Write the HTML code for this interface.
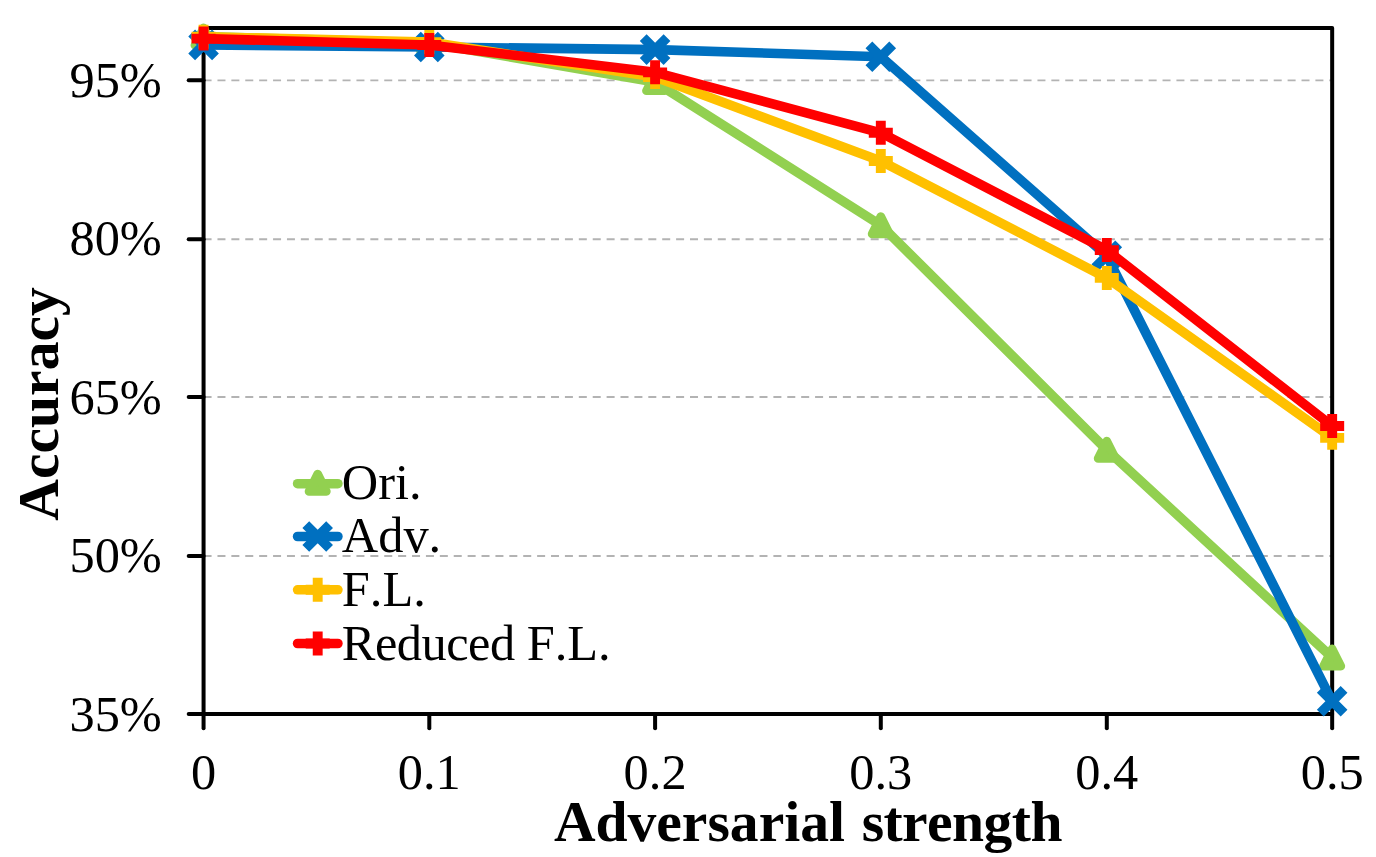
<!DOCTYPE html>
<html><head><meta charset="utf-8"><title>chart</title>
<style>html,body{margin:0;padding:0;background:#fff;}svg{display:block;}text{font-family:"Liberation Serif",serif;fill:#000;font-kerning:none;font-variant-ligatures:none;}</style></head><body>
<svg width="1376" height="857" viewBox="0 0 1376 857">
<rect width="1376" height="857" fill="#fff"/>
<line x1="203.57" y1="80.35" x2="1332.17" y2="80.35" stroke="#B3B3B3" stroke-width="1.9" stroke-dasharray="8 5.898"/>
<line x1="203.57" y1="239.20" x2="1332.17" y2="239.20" stroke="#B3B3B3" stroke-width="1.9" stroke-dasharray="8 5.898"/>
<line x1="203.57" y1="397.05" x2="1332.17" y2="397.05" stroke="#B3B3B3" stroke-width="1.9" stroke-dasharray="8 5.898"/>
<line x1="203.57" y1="556.00" x2="1332.17" y2="556.00" stroke="#B3B3B3" stroke-width="1.9" stroke-dasharray="8 5.898"/>
<line x1="203.57" y1="80.35" x2="188.7" y2="80.35" stroke="#000" stroke-width="4.0" stroke-linecap="round"/>
<line x1="203.57" y1="239.20" x2="188.7" y2="239.20" stroke="#000" stroke-width="4.0" stroke-linecap="round"/>
<line x1="203.57" y1="397.05" x2="188.7" y2="397.05" stroke="#000" stroke-width="4.0" stroke-linecap="round"/>
<line x1="203.57" y1="556.00" x2="188.7" y2="556.00" stroke="#000" stroke-width="4.0" stroke-linecap="round"/>
<line x1="203.57" y1="714.05" x2="188.7" y2="714.05" stroke="#000" stroke-width="4.0" stroke-linecap="round"/>
<line x1="203.57" y1="714.05" x2="203.57" y2="728.2" stroke="#000" stroke-width="4.0" stroke-linecap="round"/>
<line x1="429.30" y1="714.05" x2="429.30" y2="728.2" stroke="#000" stroke-width="4.0" stroke-linecap="round"/>
<line x1="655.10" y1="714.05" x2="655.10" y2="728.2" stroke="#000" stroke-width="4.0" stroke-linecap="round"/>
<line x1="880.80" y1="714.05" x2="880.80" y2="728.2" stroke="#000" stroke-width="4.0" stroke-linecap="round"/>
<line x1="1106.80" y1="714.05" x2="1106.80" y2="728.2" stroke="#000" stroke-width="4.0" stroke-linecap="round"/>
<line x1="1332.17" y1="714.05" x2="1332.17" y2="728.2" stroke="#000" stroke-width="4.0" stroke-linecap="round"/>
<rect x="203.57" y="28.0" width="1128.60" height="686.05" fill="none" stroke="#000" stroke-width="4.0" stroke-linejoin="round"/>
<polyline points="203.57,36.60 429.30,43.00 655.10,82.10 880.80,225.20 1106.80,449.80 1332.17,657.50" fill="none" stroke="#92D050" stroke-width="9.6" stroke-linejoin="round" stroke-linecap="round"/>
<path d="M203.57,27.90 L212.27,45.30 L194.87,45.30 Z" fill="#92D050" stroke="#92D050" stroke-width="8.6" stroke-linejoin="round"/>
<path d="M429.30,34.30 L438.00,51.70 L420.60,51.70 Z" fill="#92D050" stroke="#92D050" stroke-width="8.6" stroke-linejoin="round"/>
<path d="M655.10,73.40 L663.80,90.80 L646.40,90.80 Z" fill="#92D050" stroke="#92D050" stroke-width="8.6" stroke-linejoin="round"/>
<path d="M880.80,216.50 L889.50,233.90 L872.10,233.90 Z" fill="#92D050" stroke="#92D050" stroke-width="8.6" stroke-linejoin="round"/>
<path d="M1106.80,441.10 L1115.50,458.50 L1098.10,458.50 Z" fill="#92D050" stroke="#92D050" stroke-width="8.6" stroke-linejoin="round"/>
<path d="M1332.17,648.80 L1340.87,666.20 L1323.47,666.20 Z" fill="#92D050" stroke="#92D050" stroke-width="8.6" stroke-linejoin="round"/>
<polyline points="203.57,44.90 429.30,47.00 655.10,49.60 880.80,56.70 1106.80,255.80 1332.17,701.30" fill="none" stroke="#0070C0" stroke-width="9.6" stroke-linejoin="round" stroke-linecap="round"/>
<path d="M191.67,33.00 L215.47,56.80 M191.67,56.80 L215.47,33.00" fill="none" stroke="#0070C0" stroke-width="9.6" stroke-linecap="butt"/>
<path d="M417.40,35.10 L441.20,58.90 M417.40,58.90 L441.20,35.10" fill="none" stroke="#0070C0" stroke-width="9.6" stroke-linecap="butt"/>
<path d="M643.20,37.70 L667.00,61.50 M643.20,61.50 L667.00,37.70" fill="none" stroke="#0070C0" stroke-width="9.6" stroke-linecap="butt"/>
<path d="M868.90,44.80 L892.70,68.60 M868.90,68.60 L892.70,44.80" fill="none" stroke="#0070C0" stroke-width="9.6" stroke-linecap="butt"/>
<path d="M1094.90,243.90 L1118.70,267.70 M1094.90,267.70 L1118.70,243.90" fill="none" stroke="#0070C0" stroke-width="9.6" stroke-linecap="butt"/>
<path d="M1320.27,689.40 L1344.07,713.20 M1320.27,713.20 L1344.07,689.40" fill="none" stroke="#0070C0" stroke-width="9.6" stroke-linecap="butt"/>
<polyline points="203.57,36.70 429.30,42.10 655.10,77.10 880.80,161.00 1106.80,277.90 1332.17,437.85" fill="none" stroke="#FFC000" stroke-width="9.6" stroke-linejoin="round" stroke-linecap="round"/>
<path d="M191.57,36.70 L215.57,36.70 M203.57,24.70 L203.57,48.70" fill="none" stroke="#FFC000" stroke-width="9.9" stroke-linecap="butt"/>
<path d="M417.30,42.10 L441.30,42.10 M429.30,30.10 L429.30,54.10" fill="none" stroke="#FFC000" stroke-width="9.9" stroke-linecap="butt"/>
<path d="M643.10,77.10 L667.10,77.10 M655.10,65.10 L655.10,89.10" fill="none" stroke="#FFC000" stroke-width="9.9" stroke-linecap="butt"/>
<path d="M868.80,161.00 L892.80,161.00 M880.80,149.00 L880.80,173.00" fill="none" stroke="#FFC000" stroke-width="9.9" stroke-linecap="butt"/>
<path d="M1094.80,277.90 L1118.80,277.90 M1106.80,265.90 L1106.80,289.90" fill="none" stroke="#FFC000" stroke-width="9.9" stroke-linecap="butt"/>
<path d="M1320.17,437.85 L1344.17,437.85 M1332.17,425.85 L1332.17,449.85" fill="none" stroke="#FFC000" stroke-width="9.9" stroke-linecap="butt"/>
<polyline points="203.57,38.60 429.30,45.00 655.10,72.35 880.80,132.80 1106.80,250.10 1332.17,426.00" fill="none" stroke="#FF0000" stroke-width="9.6" stroke-linejoin="round" stroke-linecap="round"/>
<path d="M191.57,38.60 L215.57,38.60 M203.57,26.60 L203.57,50.60" fill="none" stroke="#FF0000" stroke-width="9.9" stroke-linecap="butt"/>
<path d="M417.30,45.00 L441.30,45.00 M429.30,33.00 L429.30,57.00" fill="none" stroke="#FF0000" stroke-width="9.9" stroke-linecap="butt"/>
<path d="M643.10,72.35 L667.10,72.35 M655.10,60.35 L655.10,84.35" fill="none" stroke="#FF0000" stroke-width="9.9" stroke-linecap="butt"/>
<path d="M868.80,132.80 L892.80,132.80 M880.80,120.80 L880.80,144.80" fill="none" stroke="#FF0000" stroke-width="9.9" stroke-linecap="butt"/>
<path d="M1094.80,250.10 L1118.80,250.10 M1106.80,238.10 L1106.80,262.10" fill="none" stroke="#FF0000" stroke-width="9.9" stroke-linecap="butt"/>
<path d="M1320.17,426.00 L1344.17,426.00 M1332.17,414.00 L1332.17,438.00" fill="none" stroke="#FF0000" stroke-width="9.9" stroke-linecap="butt"/>
<line x1="297.6" y1="483.7" x2="337.9" y2="483.7" stroke="#92D050" stroke-width="9.6" stroke-linecap="round"/>
<path d="M317.70,474.00 L326.40,491.40 L309.00,491.40 Z" fill="#92D050" stroke="#92D050" stroke-width="8.6" stroke-linejoin="round"/>
<line x1="297.6" y1="536.5" x2="337.9" y2="536.5" stroke="#0070C0" stroke-width="9.6" stroke-linecap="round"/>
<path d="M305.80,524.60 L329.60,548.40 M305.80,548.40 L329.60,524.60" fill="none" stroke="#0070C0" stroke-width="9.6" stroke-linecap="butt"/>
<line x1="297.6" y1="589.8" x2="337.9" y2="589.8" stroke="#FFC000" stroke-width="9.6" stroke-linecap="round"/>
<path d="M305.70,589.80 L329.70,589.80 M317.70,577.80 L317.70,601.80" fill="none" stroke="#FFC000" stroke-width="9.9" stroke-linecap="butt"/>
<line x1="297.6" y1="643.5" x2="337.9" y2="643.5" stroke="#FF0000" stroke-width="9.6" stroke-linecap="round"/>
<path d="M305.70,643.50 L329.70,643.50 M317.70,631.50 L317.70,655.50" fill="none" stroke="#FF0000" stroke-width="9.9" stroke-linecap="butt"/>
<text x="341.8" y="499.1" font-size="50.4">Ori.</text>
<text x="341.8" y="552.2" font-size="50.4">Adv.</text>
<text x="341.8" y="606.0" font-size="50.4">F.L.</text>
<text x="341.8" y="659.9" font-size="50.4"><tspan letter-spacing="-0.5">Reduced </tspan>F.L.</text>
<text transform="translate(161.8,96.60) scale(1,1.022)" font-size="50.4" text-anchor="end">95%</text>
<text transform="translate(161.8,255.15) scale(1,1.022)" font-size="50.4" text-anchor="end">80%</text>
<text transform="translate(161.8,413.70) scale(1,1.022)" font-size="50.4" text-anchor="end">65%</text>
<text transform="translate(161.8,572.25) scale(1,1.022)" font-size="50.4" text-anchor="end">50%</text>
<text transform="translate(161.8,730.80) scale(1,1.022)" font-size="50.4" text-anchor="end">35%</text>
<text transform="translate(203.57,788.6) scale(1,1.022)" font-size="50.4" text-anchor="middle">0</text>
<text transform="translate(429.30,788.6) scale(1,1.022)" font-size="50.4" text-anchor="middle">0.1</text>
<text transform="translate(655.10,788.6) scale(1,1.022)" font-size="50.4" text-anchor="middle">0.2</text>
<text transform="translate(880.80,788.6) scale(1,1.022)" font-size="50.4" text-anchor="middle">0.3</text>
<text transform="translate(1106.80,788.6) scale(1,1.022)" font-size="50.4" text-anchor="middle">0.4</text>
<text transform="translate(1332.17,788.6) scale(1,1.022)" font-size="50.4" text-anchor="middle">0.5</text>
<text x="553.9" y="840.9" font-size="57.6" font-weight="bold">Adversarial</text>
<text x="861.65" y="840.9" font-size="57.6" font-weight="bold" letter-spacing="-0.56">strength</text>
<text transform="translate(58.2,403.9) rotate(-90)" font-size="57.6" font-weight="bold" text-anchor="middle">Accuracy</text>
</svg></body></html>
